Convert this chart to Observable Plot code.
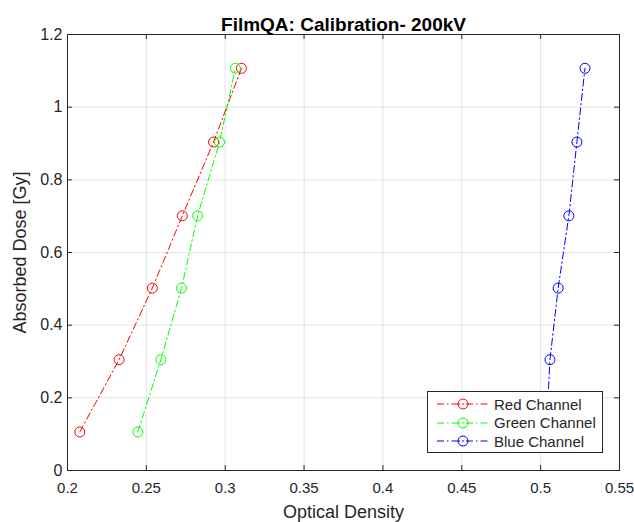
<!DOCTYPE html>
<html><head><meta charset="utf-8">
<script src="https://cdn.jsdelivr.net/npm/d3@7"></script>
<script src="https://cdn.jsdelivr.net/npm/@observablehq/plot@0.6"></script>
<style>
body{margin:0;background:#fff;font-family:"Liberation Sans",Arial,sans-serif}
#wrap{position:relative;width:634px;height:522px}
#legend{position:absolute;left:427px;top:391px;width:176px;height:62px;border:1px solid #262626;background:#fff;box-sizing:border-box;padding-top:3px}
.row{display:flex;align-items:center;height:18.5px;font-size:15px;color:#262626}
.row svg{margin-left:9px;margin-right:5px}
</style></head><body>
<div id="wrap"></div>
<script>
const title = "FilmQA: Calibration- 200kV";
const xLabel = "Optical Density";
const yLabel = "Absorbed Dose [Gy]";
const dose = [0.106, 0.305, 0.502, 0.701, 0.904, 1.107];
const redOD = [0.2078, 0.2327, 0.2538, 0.2728, 0.2926, 0.3103];
const greenOD = [0.2446, 0.2592, 0.2723, 0.2825, 0.2964, 0.3065];
const blueOD = [0.5036, 0.5059, 0.5111, 0.5179, 0.5230, 0.5281];
const seriesNames = ["Red Channel", "Green Channel", "Blue Channel"];
const seriesColors = ["#ff0000", "#00ff00", "#0000ff"];
const xTicks = [0.2, 0.25, 0.3, 0.35, 0.4, 0.45, 0.5, 0.55];
const yTicks = [0, 0.2, 0.4, 0.6, 0.8, 1, 1.2];

const ods = [redOD, greenOD, blueOD];
const data = [];
ods.forEach((arr, s) => arr.forEach((od, i) => data.push({series: seriesNames[s], od, dose: dose[i]})));

const dash = "7,3,1.5,3";
const axisColor = "#262626";
const W = 634, H = 522, mT = 34, mB = 52, mL = 67, mR = 15;
const fH = H - mT - mB, fW = W - mL - mR, tk = 5;

const plot = Plot.plot({
  width: W, height: H,
  marginTop: mT, marginBottom: mB, marginLeft: mL, marginRight: mR,
  style: {fontFamily: "'Liberation Sans', Arial, sans-serif", fontSize: "16px", color: axisColor, background: "#fff"},
  x: {domain: [0.2, 0.55]},
  y: {domain: [0, 1.2]},
  color: {domain: seriesNames, range: seriesColors},
  marks: [
    Plot.gridX(xTicks, {stroke: axisColor, strokeOpacity: 0.12}),
    Plot.gridY(yTicks, {stroke: axisColor, strokeOpacity: 0.12}),
    Plot.tickX(xTicks, {x: d => d, stroke: axisColor, insetTop: fH - tk}),
    Plot.tickX(xTicks, {x: d => d, stroke: axisColor, insetBottom: fH - tk}),
    Plot.tickY(yTicks, {y: d => d, stroke: axisColor, insetLeft: fW - tk}),
    Plot.tickY(yTicks, {y: d => d, stroke: axisColor, insetRight: fW - tk}),
    Plot.axisX(xTicks, {tickSize: 0, tickPadding: 12, tickFormat: d => String(d), fontSize: 15,
      label: xLabel, labelAnchor: "center", labelArrow: "none", labelOffset: 47}),
    Plot.axisY(yTicks, {tickSize: 0, tickPadding: 5, tickFormat: d => String(d), fontSize: 16,
      label: yLabel, labelAnchor: "center", labelArrow: "none", labelOffset: 54}),
    Plot.frame({stroke: axisColor, strokeWidth: 1}),
    Plot.line(data, {x: "od", y: "dose", z: "series", stroke: "series", strokeWidth: 1, strokeDasharray: dash}),
    Plot.dot(data, {x: "od", y: "dose", stroke: "series", r: 5, strokeWidth: 1, fill: "none"}),
    Plot.text([title], {text: d => d, frameAnchor: "top", dy: -17, fontSize: 19, fontWeight: "bold", fill: "#000"})
  ]
});
plot.querySelectorAll("[aria-label='x-axis label'] text, [aria-label='y-axis label'] text").forEach(t => t.setAttribute("font-size", "18"));
const wrap = document.getElementById("wrap");
wrap.appendChild(plot);

const legend = document.createElement("div");
legend.id = "legend";
seriesNames.forEach((name, i) => {
  const row = document.createElement("div");
  row.className = "row";
  row.innerHTML = `<svg width="52" height="12"><line x1="0" y1="6" x2="52" y2="6" stroke="${seriesColors[i]}" stroke-dasharray="${dash}"/><circle cx="26" cy="6" r="5" fill="#fff" stroke="${seriesColors[i]}"/><line x1="21" y1="6" x2="31" y2="6" stroke="${seriesColors[i]}" stroke-dasharray="2,2"/></svg><span>${name}</span>`;
  legend.appendChild(row);
});
wrap.appendChild(legend);
</script>
</body></html>
